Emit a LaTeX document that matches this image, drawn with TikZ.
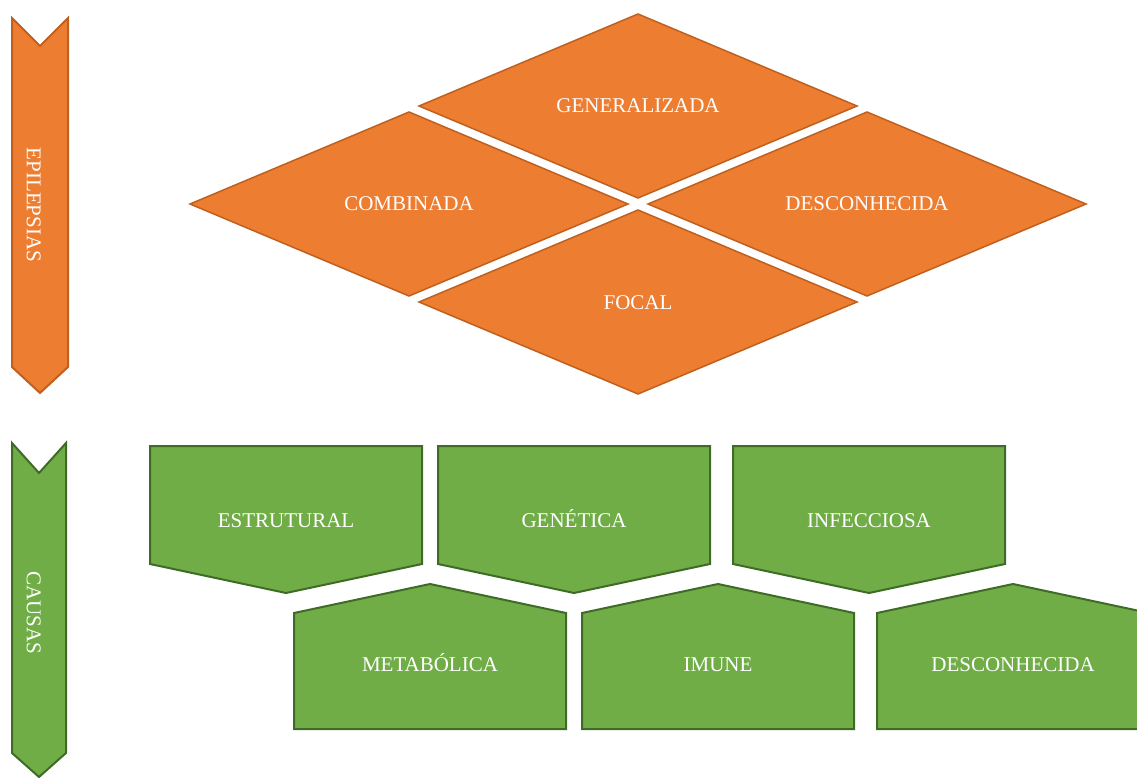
\documentclass[tikz,border=0pt]{standalone}
\usepackage{fontspec}
\setmainfont{Liberation Serif}
\usepackage{tikz}
\usetikzlibrary{positioning}

\definecolor{laranja}{HTML}{ED7D31}
\definecolor{laranjaborda}{HTML}{C0601E}
\definecolor{verde}{HTML}{70AD47}
\definecolor{verdeborda}{HTML}{3F6B27}

\begin{document}
\begin{tikzpicture}[x=1pt, y=-1pt, line join=miter,
    rhomb/.style={fill=laranja, draw=laranjaborda, line width=1.5pt},
    pentbox/.style={fill=verde, draw=verdeborda, line width=2pt},
    seta/.style={line width=2pt},
    rotulo/.style={text=white, font=\fontsize{21}{25}\selectfont,
      inner sep=0pt, text height=14pt, text depth=0pt}]
  \useasboundingbox (0,0) rectangle (1137,778);

  % setas laterais
  \draw[seta, fill=laranja, draw=laranjaborda]
    (12,18) -- (40,46) -- (68,18) -- (68,367) -- (40,393) -- (12,367) -- cycle;
  \node[rotulo, rotate=-90] (epil) at (34,205) {EPILEPSIAS};
  \draw[seta, fill=verde, draw=verdeborda]
    (12,443) -- (39,473) -- (66,443) -- (66,753) -- (39,777) -- (12,753) -- cycle;
  \node[rotulo, rotate=-90] (causas) at (34,613) {CAUSAS};

  % tipos de epilepsia
  \foreach \nome/\cx/\cy/\texto in {gen/638/106/GENERALIZADA,
      comb/409/204/COMBINADA, desc/867/204/DESCONHECIDA, focal/638/302/FOCAL} {
    \draw[rhomb] (\cx-219,\cy) -- (\cx,\cy-92) -- (\cx+219,\cy)
      -- (\cx,\cy+92) -- cycle;
    \node[rotulo] (\nome) at (\cx,\cy) {\texto};
  }

  % causas
  \foreach \nome/\xa/\texto in {estr/150/ESTRUTURAL, genet/438/GENÉTICA,
      infec/733/INFECCIOSA} {
    \draw[pentbox] (\xa,446) -- (\xa+272,446) -- (\xa+272,564)
      -- (\xa+136,593) -- (\xa,564) -- cycle;
    \node[rotulo] (\nome) at (\xa+136,520) {\texto};
  }
  \foreach \nome/\xa/\texto in {metab/294/METABÓLICA, imune/582/IMUNE,
      descc/877/DESCONHECIDA} {
    \draw[pentbox] (\xa,613) -- (\xa+136,584) -- (\xa+272,613)
      -- (\xa+272,729) -- (\xa,729) -- cycle;
    \node[rotulo] (\nome) at (\xa+136,664) {\texto};
  }
\end{tikzpicture}
\end{document}
